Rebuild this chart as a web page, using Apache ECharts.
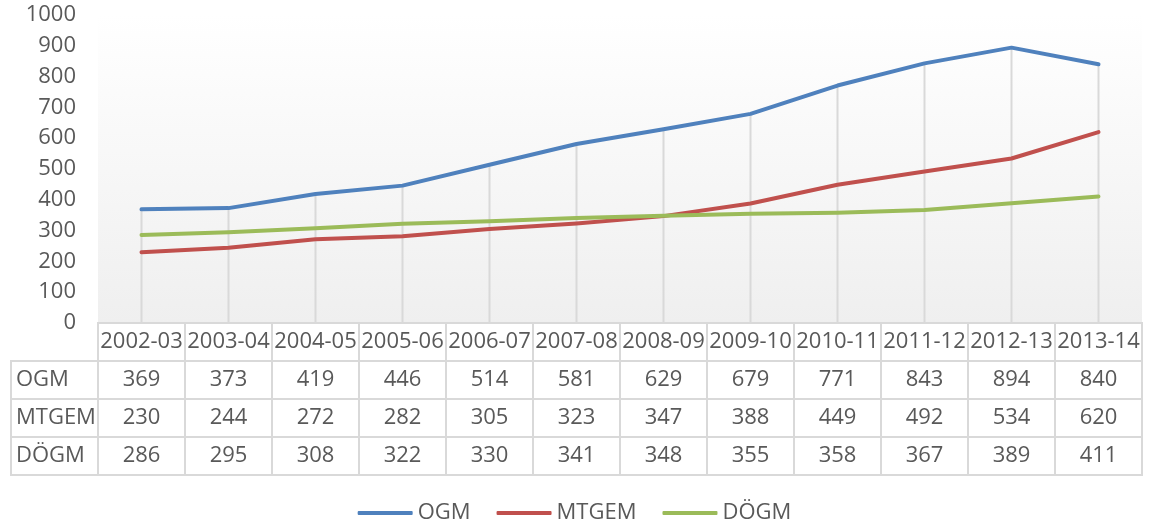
<!DOCTYPE html>
<html>
<head>
<meta charset="utf-8">
<script src="https://cdn.jsdelivr.net/npm/echarts@6/dist/echarts.min.js"></script>
<style>
    html, body { margin: 0; padding: 0; background: #fff; }
    #main { width: 1149px; height: 528px; }
</style>
</head>
<body>
<div id="main"></div>
<script type="text/javascript">
    // data
    var years = ['2002-03', '2003-04', '2004-05', '2005-06', '2006-07', '2007-08',
                 '2008-09', '2009-10', '2010-11', '2011-12', '2012-13', '2013-14'];
    var ogm   = [369, 373, 419, 446, 514, 581, 629, 679, 771, 843, 894, 840];
    var mtgem = [230, 244, 272, 282, 305, 323, 347, 388, 449, 492, 534, 620];
    var dogm  = [286, 295, 308, 322, 330, 341, 348, 355, 358, 367, 389, 411];
    var names = ['OGM', 'MTGEM', 'DÖGM'];
    var colors = ['#4f81bd', '#c0504d', '#9bbb59'];

    var textColor = '#595959';
    var font = 'Open Sans';

    // table cells: column 0 = row names, row 0 = year header
    var rows = [ogm, mtgem, dogm];
    var cells = [];
    var cellText = [];
    for (var c = 0; c < years.length; c++) {
        cells.push([c + 1, 0]);
        cellText.push(years[c]);
    }
    for (var r = 0; r < rows.length; r++) {
        cells.push([0, r + 1]);
        cellText.push(names[r]);
        for (var c2 = 0; c2 < years.length; c2++) {
            cells.push([c2 + 1, r + 1]);
            cellText.push(String(rows[r][c2]));
        }
    }
    var tableCols = [''].concat(years);
    var tableRows = [''].concat(names);

    var myChart = echarts.init(document.getElementById('main'));

    var option = {
        animation: false,
        textStyle: { fontFamily: font },
        legend: {
            data: names,
            left: 'center',
            top: 497,
            icon: 'roundRect',
            itemWidth: 55,
            itemHeight: 4,
            itemGap: 26,
            textStyle: { color: textColor, fontSize: 22, fontFamily: font }
        },
        grid: [
            {
                left: 98, right: 7, top: 15, height: 308,
                show: true, borderWidth: 0,
                backgroundColor: new echarts.graphic.LinearGradient(0, 0, 0, 1, [
                    { offset: 0, color: '#ffffff' },
                    { offset: 1, color: '#efefef' }
                ])
            },
            { left: 11, right: 7, top: 323, height: 152 }
        ],
        xAxis: [
            {
                gridIndex: 0, type: 'category', data: years, boundaryGap: true,
                axisLine: { show: false }, axisTick: { show: false }, axisLabel: { show: false }
            },
            {
                gridIndex: 1, type: 'category', data: tableCols, show: false
            }
        ],
        yAxis: [
            {
                gridIndex: 0, type: 'value', min: 0, max: 1000, interval: 100,
                axisLine: { show: false }, axisTick: { show: false },
                splitLine: { show: false },
                axisLabel: {
                    color: textColor, fontSize: 22, fontFamily: font, margin: 22,
                    formatter: function (v) { return String(v); }
                }
            },
            {
                gridIndex: 1, type: 'category', data: tableRows, inverse: true, show: false
            }
        ],
        series: [
            {
                // drop lines
                name: 'drop', type: 'bar', data: ogm, barWidth: 2, silent: true, z: 1,
                itemStyle: { color: '#d9d9d9' }
            },
            {
                name: 'OGM', type: 'line', data: ogm, symbol: 'none', z: 3,
                lineStyle: { width: 4, color: colors[0], cap: 'round', join: 'round' },
                itemStyle: { color: colors[0] }
            },
            {
                name: 'MTGEM', type: 'line', data: mtgem, symbol: 'none', z: 3,
                lineStyle: { width: 4, color: colors[1], cap: 'round', join: 'round' },
                itemStyle: { color: colors[1] }
            },
            {
                name: 'DÖGM', type: 'line', data: dogm, symbol: 'none', z: 3,
                lineStyle: { width: 4, color: colors[2], cap: 'round', join: 'round' },
                itemStyle: { color: colors[2] }
            },
            {
                name: 'table', type: 'custom', xAxisIndex: 1, yAxisIndex: 1, silent: true,
                data: cells,
                renderItem: function (params, api) {
                    var col = api.value(0), row = api.value(1);
                    var p = api.coord([col, row]);
                    var s = api.size([1, 1]);
                    var x = p[0] - s[0] / 2, y = p[1] - s[1] / 2;
                    var isName = col === 0;
                    return {
                        type: 'group',
                        children: [
                            {
                                type: 'rect',
                                shape: { x: x, y: y, width: s[0], height: s[1] },
                                style: { fill: 'none', stroke: '#d9d9d9', lineWidth: 2 }
                            },
                            {
                                type: 'text',
                                x: isName ? x + 5 : p[0],
                                y: p[1],
                                style: {
                                    text: cellText[params.dataIndex],
                                    fill: textColor,
                                    font: '22px "Open Sans"',
                                    align: isName ? 'left' : 'center',
                                    verticalAlign: 'middle'
                                }
                            }
                        ]
                    };
                }
            }
        ]
    };

    myChart.setOption(option);
</script>
</body>
</html>
